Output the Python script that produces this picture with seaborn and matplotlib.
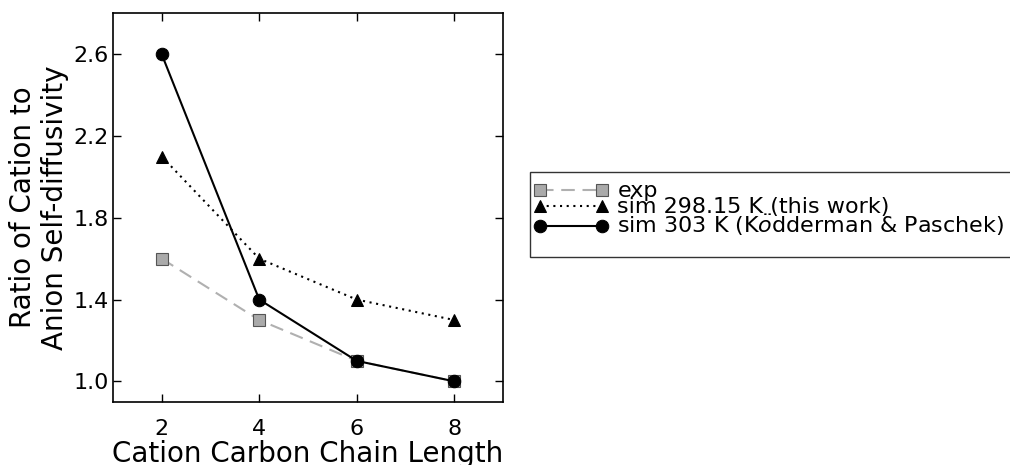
import matplotlib
matplotlib.use("Agg")
import matplotlib.pyplot as plt
from matplotlib.legend_handler import HandlerLine2D
from matplotlib.lines import Line2D
import pandas as pd
import seaborn as sns

chain_length = [2, 4, 6, 8]
ratio_exp = [1.6, 1.3, 1.1, 1.0]
ratio_sim_298 = [2.1, 1.6, 1.4, 1.3]
ratio_sim_303 = [2.6, 1.4, 1.1, 1.0]

labels = ["exp", "sim 298.15 K (this work)", r"sim 303 K (K$\ddot{o}$dderman & Paschek)"]
x_ticks = [2, 4, 6, 8]
y_ticks = [1.0, 1.4, 1.8, 2.2, 2.6]

sns.set_style("ticks")
plt.rcParams["font.family"] = ["DejaVu Sans"]
plt.rcParams["mathtext.fontset"] = "dejavusans"
plt.rcParams["text.color"] = "black"
plt.rcParams["axes.labelcolor"] = "black"

fig = plt.figure(figsize=(10.1, 4.65), dpi=100)
ax = fig.add_axes([0.1119, 0.136, 0.3861, 0.835])

df_exp = pd.DataFrame({"n": chain_length, "r": ratio_exp})
df_298 = pd.DataFrame({"n": chain_length, "r": ratio_sim_298})
df_303 = pd.DataFrame({"n": chain_length, "r": ratio_sim_303})

sns.lineplot(data=df_exp, x="n", y="r", ax=ax, color="#b0b0b0", linestyle=(0, (6.5, 3.7)),
             linewidth=1.5, marker="s", markersize=8, markerfacecolor="#aaaaaa",
             markeredgecolor="#555555", markeredgewidth=0.8, label=labels[0])
sns.lineplot(data=df_298, x="n", y="r", ax=ax, color="black", linestyle=(0, (1, 2.2)),
             linewidth=1.5, marker="^", markersize=8.5, markerfacecolor="black",
             markeredgecolor="black", label=labels[1])
sns.lineplot(data=df_303, x="n", y="r", ax=ax, color="black", linestyle="-",
             linewidth=1.5, marker="o", markersize=9, markerfacecolor="black",
             markeredgecolor="black", label=labels[2])

ax.set_xlim(1, 9)
ax.set_ylim(0.9, 2.8)
ax.set_xticks(x_ticks)
ax.set_yticks(y_ticks)
ax.set_yticklabels([f"{v:.1f}" for v in y_ticks])
ax.tick_params(direction="in", top=True, right=True, length=6, width=1,
               labelsize=16, colors="black")
ax.tick_params(axis="x", pad=12.5)
ax.tick_params(axis="y", pad=3)
for s in ax.spines.values():
    s.set_linewidth(1.2)
    s.set_color("black")

ax.set_xlabel("Cation Carbon Chain Length", fontsize=20, labelpad=0.5)
ax.set_ylabel("Ratio of Cation to\nAnion Self-diffusivity", fontsize=20, labelpad=3)

handles, lbls = ax.get_legend_handles_labels()
ax.get_legend().remove()
# short blank trailing row leaves a little extra room under the last entry
handles.append(Line2D([], [], linestyle="none"))
lbls.append("")
leg = fig.legend(handles, lbls, loc="upper left", bbox_to_anchor=(0.525, 1 - 172 / 465),
                 fontsize=16, numpoints=2, handlelength=2.8, handleheight=0.5,
                 handletextpad=0.7, labelspacing=-0.2, borderpad=0.42,
                 fancybox=False, frameon=True, borderaxespad=0,
                 handler_map={Line2D: HandlerLine2D(marker_pad=0)})
leg.get_texts()[-1].set_fontsize(1)
leg.get_frame().set_edgecolor("black")
leg.get_frame().set_linewidth(1.0)

fig.savefig("out.png", dpi=100)
